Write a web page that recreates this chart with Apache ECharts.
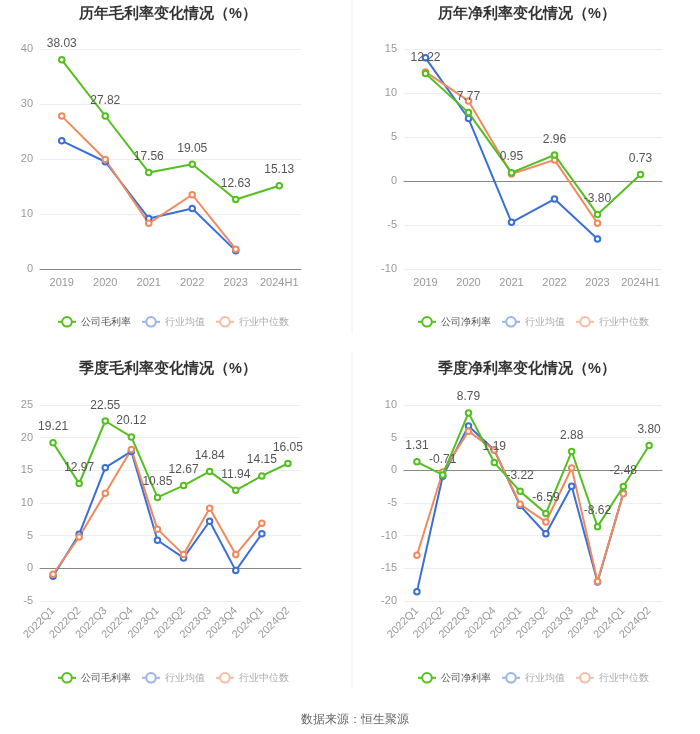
<!DOCTYPE html>
<html>
<head>
<meta charset="utf-8">
<script src="https://cdn.jsdelivr.net/npm/echarts@6/dist/echarts.min.js"></script>
<style>
html,body{margin:0;padding:0;background:#fff;}
#c{width:700px;height:734px;}
</style>
</head>
<body>
<div id="c"></div>
<script>
// ---- data ----
var yearCats = ['2019', '2020', '2021', '2022', '2023', '2024H1'];
var quarterCats = ['2022Q1', '2022Q2', '2022Q3', '2022Q4', '2023Q1', '2023Q2', '2023Q3', '2023Q4', '2024Q1', '2024Q2'];

var yearGrossCompany = [38.03, 27.82, 17.56, 19.05, 12.63, 15.13];
var yearGrossAvg = [23.3, 19.5, 9.2, 11.0, 3.3, null];
var yearGrossMedian = [27.8, 19.9, 8.3, 13.5, 3.6, null];

var yearNetCompany = [12.22, 7.77, 0.95, 2.96, -3.80, 0.73];
var yearNetAvg = [14.0, 7.1, -4.7, -2.05, -6.6, null];
var yearNetMedian = [12.4, 9.1, 0.8, 2.4, -4.8, null];

var qGrossCompany = [19.21, 12.97, 22.55, 20.12, 10.85, 12.67, 14.84, 11.94, 14.15, 16.05];
var qGrossAvg = [-1.2, 5.2, 15.4, 17.9, 4.3, 1.6, 7.2, -0.35, 5.3, null];
var qGrossMedian = [-0.9, 4.8, 11.5, 18.2, 6.0, 2.1, 9.2, 2.1, 6.9, null];

var qNetCompany = [1.31, -0.71, 8.79, 1.19, -3.22, -6.59, 2.88, -8.62, -2.48, 3.80];
var qNetAvg = [-18.6, -0.9, 6.8, 3.1, -5.4, -9.7, -2.45, -17.1, -3.5, null];
var qNetMedian = [-13.0, -0.25, 6.0, 3.1, -5.2, -7.9, 0.35, -17.0, -3.6, null];

var titles = ['历年毛利率变化情况（%）', '历年净利率变化情况（%）', '季度毛利率变化情况（%）', '季度净利率变化情况（%）'];
var grossName = '公司毛利率', netName = '公司净利率', avgName = '行业均值', medName = '行业中位数';
var sourceText = '数据来源：恒生聚源';

// ---- styles ----
var GREEN = '#55bf22', BLUE = '#3b6fd6', ORANGE = '#ef8a5f';
var BLUE_L = '#9ab5ea', ORANGE_L = '#f5bca3';

var grids = [
  {left: 40, top: 49, width: 261, height: 220},
  {left: 404, top: 49, width: 258, height: 220},
  {left: 40, top: 405, width: 261, height: 196},
  {left: 404, top: 405, width: 258, height: 196}
];
var yRanges = [[0, 40, 10], [-10, 15, 5], [-5, 25, 5], [-20, 10, 5]];
var cats = [yearCats, yearCats, quarterCats, quarterCats];

function xAxis(i) {
  return {
    type: 'category', gridIndex: i, data: cats[i], boundaryGap: true,
    axisLine: {onZero: true, lineStyle: {color: '#888'}},
    axisTick: {alignWithLabel: true, lineStyle: {color: '#888'}},
    axisLabel: {color: '#999', fontSize: 11, rotate: i >= 2 ? 45 : 0, margin: 8, interval: 0}
  };
}
function yAxis(i) {
  return {
    type: 'value', gridIndex: i, min: yRanges[i][0], max: yRanges[i][1], interval: yRanges[i][2],
    axisLine: {show: false}, axisTick: {show: false},
    axisLabel: {color: '#999', fontSize: 11, margin: 7},
    splitLine: {lineStyle: {color: '#ebeef3'}}
  };
}
function ser(name, data, color, i, showLabel) {
  return {
    type: 'line', name: name, data: data, xAxisIndex: i, yAxisIndex: i,
    symbol: 'emptyCircle', symbolSize: 5.5,
    itemStyle: {color: color, borderWidth: 1.5},
    lineStyle: {color: color, width: 2},
    z: showLabel ? 3 : 2,
    label: {show: showLabel, position: 'top', color: '#555', fontSize: 12, distance: 6,
            formatter: function (p) { return p.value.toFixed(2); }},
    emphasis: {disabled: true}
  };
}
var seriesData = [
  [grossName, yearGrossCompany, yearGrossAvg, yearGrossMedian],
  [netName, yearNetCompany, yearNetAvg, yearNetMedian],
  [grossName, qGrossCompany, qGrossAvg, qGrossMedian],
  [netName, qNetCompany, qNetAvg, qNetMedian]
];
var series = [];
seriesData.forEach(function (s, i) {
  series.push(ser(avgName, s[2], BLUE, i, false));
  series.push(ser(medName, s[3], ORANGE, i, false));
  series.push(ser(s[0], s[1], GREEN, i, true));
});

var titleX = [163, 522, 163, 522];
var titleY = [1, 1, 356, 356];
var legendY = [311, 311, 667, 667];
var legendX = [52, 412, 52, 412];

var option = {
  animation: false,
  backgroundColor: '#fff',
  title: titles.map(function (t, i) {
    return {text: t, left: titleX[i], top: titleY[i], textAlign: 'center',
            textStyle: {fontSize: 14.5, fontWeight: 'bold', color: '#333'}};
  }).concat([{text: sourceText, left: 350, top: 709, textAlign: 'center',
              textStyle: {fontSize: 12, fontWeight: 'normal', color: '#666'}}]),
  legend: seriesData.map(function (s, i) {
    return {
      left: legendX[i], top: legendY[i], itemWidth: 18, itemHeight: 12, itemGap: 10,
      textStyle: {fontSize: 10, color: '#666'},
      data: [
        {name: s[0], textStyle: {color: '#555'}},
        {name: avgName, itemStyle: {color: BLUE_L}, lineStyle: {color: BLUE_L}, textStyle: {color: '#aaa'}},
        {name: medName, itemStyle: {color: ORANGE_L}, lineStyle: {color: ORANGE_L}, textStyle: {color: '#aaa'}}
      ]
    };
  }),
  grid: grids,
  xAxis: [0, 1, 2, 3].map(xAxis),
  yAxis: [0, 1, 2, 3].map(yAxis),
  series: series,
  graphic: [
    {type: 'line', shape: {x1: 352, y1: 0, x2: 352, y2: 334}, style: {stroke: '#f0f0f0', lineWidth: 1}},
    {type: 'line', shape: {x1: 352, y1: 352, x2: 352, y2: 688}, style: {stroke: '#f0f0f0', lineWidth: 1}}
  ]
};
var chart = echarts.init(document.getElementById('c'));
chart.setOption(option);
</script>
</body>
</html>
